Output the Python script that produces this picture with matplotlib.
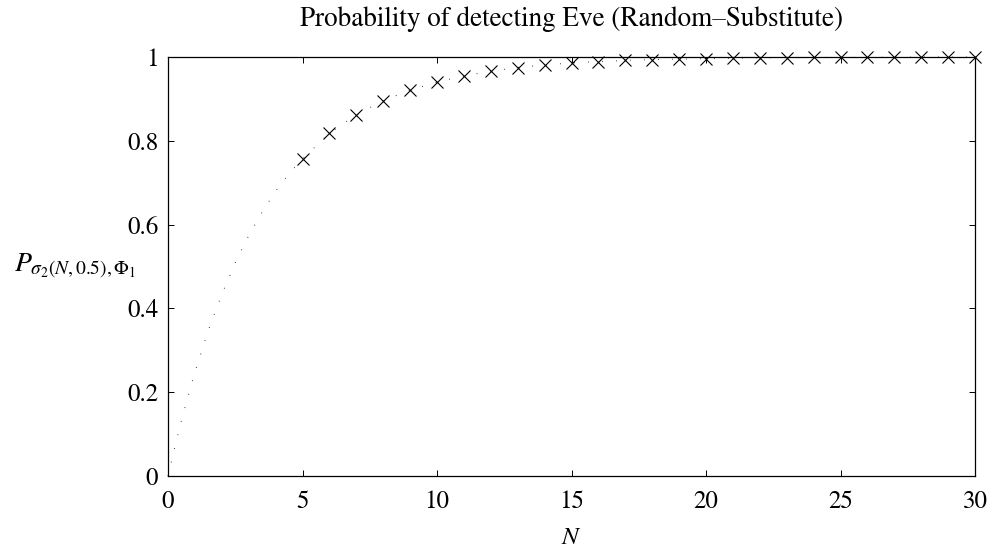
import matplotlib
matplotlib.use("Agg")
import matplotlib.pyplot as plt

# Values
curve_n = [0, 0.25, 0.5, 0.75, 1, 1.5, 2, 2.5, 3, 3.5, 4, 4.5, 5, 6, 7, 8, 9, 10,
           11, 12, 13, 14, 15, 16, 17, 18, 19, 20, 22, 24, 26, 28, 30]
curve_p = [0.0, 0.068, 0.133, 0.191, 0.248, 0.348, 0.434, 0.509, 0.574, 0.630,
           0.680, 0.722, 0.757, 0.818, 0.862, 0.896, 0.921, 0.940, 0.955, 0.966,
           0.975, 0.981, 0.986, 0.989, 0.992, 0.994, 0.995, 0.996, 0.998, 0.999,
           0.999, 1.0, 1.0]

marker_n = [5, 6, 7, 8, 9, 10, 11, 12, 13, 14, 15, 16, 17, 18, 19, 20,
            21, 22, 23, 24, 25, 26, 27, 28, 29, 30]
marker_p = [0.757, 0.818, 0.862, 0.896, 0.921, 0.940, 0.955, 0.966, 0.975, 0.981,
            0.986, 0.989, 0.992, 0.994, 0.995, 0.996, 0.997, 0.998, 0.998, 0.999,
            0.999, 0.999, 0.999, 1.0, 1.0, 1.0]

x_ticks = [0, 5, 10, 15, 20, 25, 30]
y_ticks = [0, 0.2, 0.4, 0.6, 0.8, 1]
y_tick_labels = ["0", "0.2", "0.4", "0.6", "0.8", "1"]

plt.rcParams['font.family'] = ['STIXGeneral', 'DejaVu Serif']
plt.rcParams['mathtext.fontset'] = 'stix'

fig = plt.figure(figsize=(9.93, 5.58), dpi=100)
ax = fig.add_axes([0.1692, 0.147, 0.8127, 0.7508])

ax.plot(curve_n, curve_p, color='black', linewidth=0.8,
        linestyle=(0, (0.6, 12)), clip_on=False)
ax.plot(marker_n, marker_p, linestyle='none', marker='x', color='black',
        markersize=9, markeredgewidth=0.8, clip_on=False, zorder=3)

ax.set_xlim(0, 30)
ax.set_ylim(0, 1)
ax.set_xticks(x_ticks)
ax.set_yticks(y_ticks)
ax.set_yticklabels(y_tick_labels)
ax.tick_params(direction='in', length=4.5, width=0.7, top=True, right=True,
               labelsize=18)
ax.tick_params(axis='x', pad=10)
ax.tick_params(axis='y', pad=7)
for s in ax.spines.values():
    s.set_linewidth(0.9)

ax.set_title("Probability of detecting Eve (Random\u2013Substitute)", fontsize=19.5, pad=22)
ax.set_xlabel("$N$", fontsize=18, labelpad=9)
ax.set_ylabel(r"$P_{\sigma_2(N,0.5),\Phi_1}$", fontsize=20, rotation=0, ha='center', va='center')
ax.yaxis.set_label_coords(-0.115, 0.5)

fig.savefig("out.png", dpi=100)
